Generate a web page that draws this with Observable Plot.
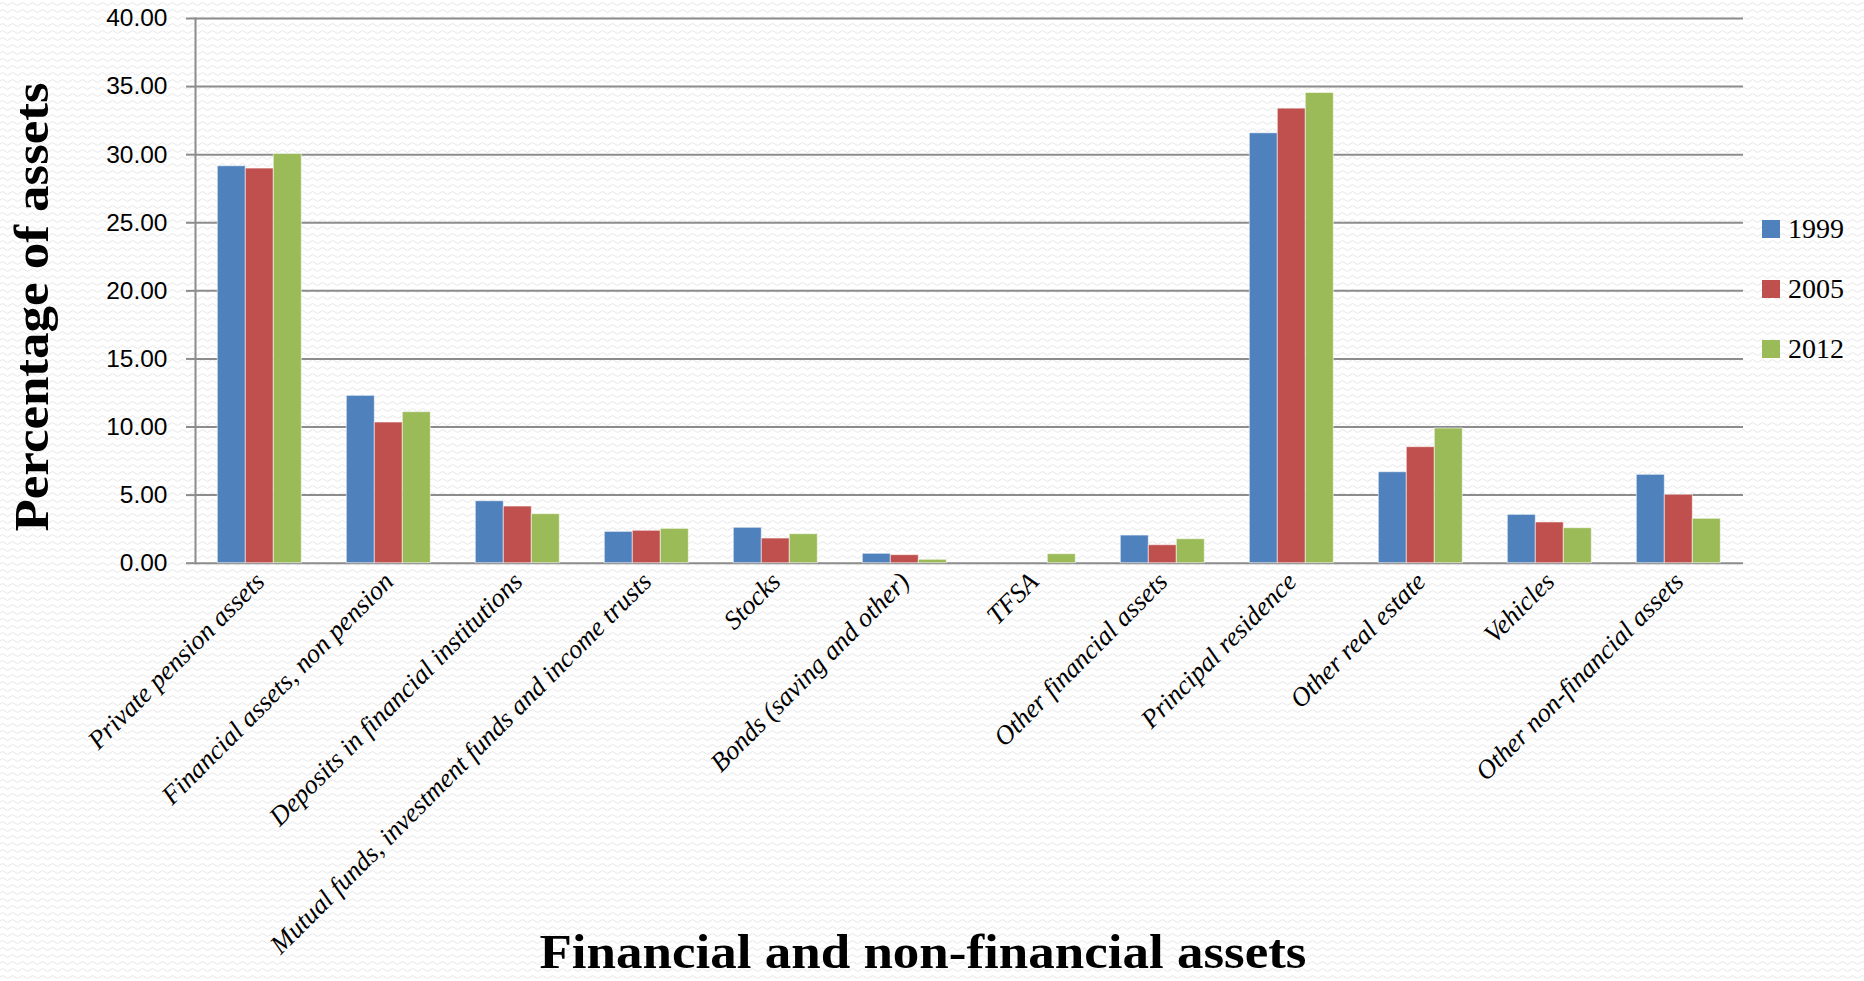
<!DOCTYPE html>
<html>
<head>
<meta charset="utf-8">
<script src="https://cdn.jsdelivr.net/npm/d3@7"></script>
<script src="https://cdn.jsdelivr.net/npm/@observablehq/plot@0.6"></script>
<style>
  html, body { margin: 0; padding: 0; overflow: hidden; }
  body {
    width: 1864px; height: 981px; position: relative;
    background-color: #ffffff;
    background-image: url("data:image/svg+xml;utf8,<svg xmlns='http://www.w3.org/2000/svg' width='10' height='7'><path d='M0 4 Q2.5 1 5 4 T10 4' fill='none' stroke='%23e6e6e6' stroke-width='1'/></svg>");
  }
  #chart svg { overflow: visible; background: transparent; }
  #ytitle {
    position: absolute; left: 8px; top: 307px; transform-origin: 0 0;
    font: bold 48px "Liberation Serif", serif; line-height: 1; white-space: nowrap; color: #000;
  }
  #xtitle {
    position: absolute; left: 923px; top: 932px; transform-origin: 0 0;
    font: bold 48px "Liberation Serif", serif; line-height: 0.85; white-space: nowrap; color: #000;
  }
  #legend { position: absolute; left: 1762px; top: 0; font: 28px "Liberation Serif", serif; color: #000; }
  .lg-row { position: absolute; left: 0; display: flex; align-items: center; white-space: nowrap; }
  .lg-sw { width: 18px; height: 18px; margin-right: 8px; }
</style>
</head>
<body>
<div id="chart"></div>
<div id="legend"></div>
<div id="ytitle">Percentage of assets</div>
<div id="xtitle">Financial and non-financial assets</div>
<script>
const categories = [
  "Private pension assets",
  "Financial assets, non pension",
  "Deposits in financial institutions",
  "Mutual funds, investment funds and income trusts",
  "Stocks",
  "Bonds (saving and other)",
  "TFSA",
  "Other financial assets",
  "Principal residence",
  "Other real estate",
  "Vehicles",
  "Other non-financial assets"
];
const years = ["1999", "2005", "2012"];
const values1999 = [29.15, 12.29, 4.55, 2.30, 2.60, 0.69, null, 2.03, 31.57, 6.68, 3.55, 6.49];
const values2005 = [28.98, 10.33, 4.16, 2.38, 1.81, 0.59, null, 1.32, 33.38, 8.52, 2.99, 5.02];
const values2012 = [30.05, 11.09, 3.60, 2.52, 2.13, 0.25, 0.66, 1.76, 34.53, 9.89, 2.57, 3.26];
const yTicks = [0, 5, 10, 15, 20, 25, 30, 35, 40];
const colors = ["#4F81BD", "#C0504D", "#9BBB59"];

const series = [values1999, values2005, values2012];
const rows = categories.flatMap((c, i) =>
  years.map((y, j) => ({category: c, year: y, value: series[j][i]}))
).filter(d => d.value != null);

const grid = "#8c8c8c";

const chart = Plot.plot({
  width: 1864,
  height: 930,
  marginLeft: 191.7,
  marginRight: 117.3,
  marginTop: 18,
  marginBottom: 367.3,
  style: {background: "transparent", overflow: "visible"},
  fx: {domain: categories, padding: 0, axis: null, label: null},
  x: {domain: years, paddingInner: 0, paddingOuter: 0.734, axis: null},
  y: {domain: [0, 40], axis: null},
  color: {domain: years, range: colors},
  marks: [
    Plot.ruleY(yTicks, {stroke: grid, strokeWidth: 2}),
    Plot.frame({anchor: "left", facetAnchor: "left", stroke: grid, strokeWidth: 2}),
    Plot.axisY({
      ticks: yTicks, tickSize: 9, tickPadding: 19,
      tickFormat: d => d.toFixed(2), stroke: grid, strokeWidth: 2,
      fontSize: 24.5, fontFamily: "Liberation Sans, Arial, sans-serif", label: null
    }),
    Plot.barY(rows, {
      fx: "category", x: "year", y: "value", fill: "year",
      stroke: "#ffffff", strokeOpacity: 0.55, strokeWidth: 1
    }),
    Plot.axisFx({
      anchor: "bottom", tickRotate: -45, tickSize: 0, tickPadding: 14,
      fontSize: 26.5, fontFamily: "Liberation Serif, serif", fontStyle: "italic", label: null
    })
  ]
});
document.getElementById("chart").appendChild(chart);

// legend from the plot's color scale
const color = chart.scale("color");
const legend = document.getElementById("legend");
color.domain.forEach((y, i) => {
  const row = document.createElement("div");
  row.className = "lg-row";
  row.style.top = (213 + i * 60) + "px";
  const sw = document.createElement("div");
  sw.className = "lg-sw";
  sw.style.background = color.range[i];
  const t = document.createElement("span");
  t.textContent = y;
  row.appendChild(sw); row.appendChild(t);
  legend.appendChild(row);
});

// fit titles to the reference text lengths
const yt = document.getElementById("ytitle");
const ysx = 449 / yt.getBoundingClientRect().width;
yt.style.transform = `rotate(-90deg) scaleX(${ysx}) translateX(-50%)`;
const xt = document.getElementById("xtitle");
const xsx = 767 / xt.getBoundingClientRect().width;
xt.style.transform = `scaleX(${xsx}) translateX(-50%)`;
</script>
</body>
</html>
